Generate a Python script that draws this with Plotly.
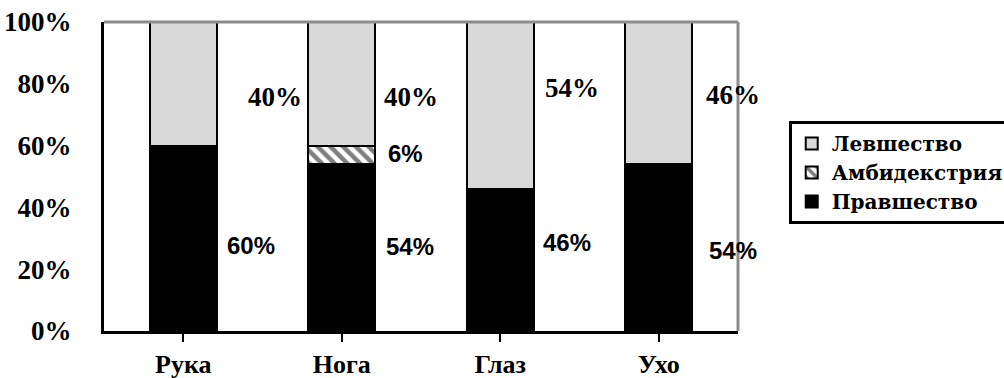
import plotly.graph_objects as go

categories = ["Рука", "Нога", "Глаз", "Ухо"]
right_handed = [60, 54, 46, 54]
ambidextrous = [0, 6, 0, 0]
left_handed = [40, 40, 54, 46]
y_ticks = [0, 20, 40, 60, 80, 100]
y_tick_labels = ["0%", "20%", "40%", "60%", "80%", "100%"]

x_idx = list(range(len(categories)))

fig = go.Figure()
line = dict(color="black", width=2)
fig.add_bar(x=x_idx, y=right_handed, name="<b>Правшество</b>", width=0.42,
            marker=dict(color="black", line=line))
fig.add_bar(x=x_idx, y=ambidextrous, name="<b>Амбидекстрия</b>", width=0.42,
            marker=dict(color="white", line=line,
                        pattern=dict(shape="\\", fgcolor="black", bgcolor="white",
                                     size=9, solidity=0.5)))
fig.add_bar(x=x_idx, y=left_handed, name="<b>Левшество</b>", width=0.42,
            marker=dict(color="#d9d9d9", line=line))

serif = "Liberation Serif"
sans = "Liberation Sans"

# label placement (offset from category, y position)
upper_pos = [(0.58, 75.7), (0.44, 75.7), (0.45, 78.6), (0.47, 76.4)]
lower_pos = [(0.43, 27.8), (0.43, 27.5), (0.42, 28.5), (0.47, 26.2)]
amb_pos = (0.40, 57.6)

anns = []
for i in x_idx:
    dx, yy = upper_pos[i]
    anns.append(dict(x=i + dx, y=yy, xref="x", yref="y", showarrow=False,
                     text=f"<b>{left_handed[i]}%</b>",
                     font=dict(family=serif, size=27, color="black")))
    dx, yy = lower_pos[i]
    anns.append(dict(x=i + dx, y=yy, xref="x", yref="y", showarrow=False,
                     text=f"<b>{right_handed[i]}%</b>",
                     font=dict(family=sans, size=24, color="black")))
    if ambidextrous[i] > 0:
        dx, yy = amb_pos
        anns.append(dict(x=i + dx, y=yy, xref="x", yref="y", showarrow=False,
                         text=f"<b>{ambidextrous[i]}%</b>",
                         font=dict(family=sans, size=24, color="black")))

fig.update_layout(
    width=1004, height=378,
    margin=dict(l=104, r=266, t=22, b=47, autoexpand=False),
    barmode="stack",
    plot_bgcolor="white", paper_bgcolor="white",
    annotations=anns,
    showlegend=True,
    legend=dict(x=1.08, y=0.68, xanchor="left", yanchor="top",
                traceorder="reversed", bordercolor="black", borderwidth=3,
                font=dict(family="DejaVu Serif", size=20, color="black"),
                bgcolor="white", itemwidth=30, tracegroupgap=0),
    xaxis=dict(range=[-0.5, 3.5], tickmode="array", tickvals=x_idx,
               ticktext=[f"<b>{c}</b>" for c in categories],
               showline=True, linecolor="black", linewidth=3, automargin=False,
               ticks="outside", ticklen=8, tickwidth=2, tickcolor="black",
               tickson="boundaries", showgrid=False, zeroline=False,
               ticklabelstandoff=0,
               tickfont=dict(family=serif, size=26, color="black")),
    yaxis=dict(range=[0, 100], tickmode="array", tickvals=y_ticks,
               ticktext=[f"<b>{t}</b>" for t in y_tick_labels],
               showline=True, linecolor="black", linewidth=3, ticks="", automargin=False,
               showgrid=False, zeroline=False, ticklabelstandoff=24,
               tickfont=dict(family=serif, size=27, color="black")),
    shapes=[
        dict(type="line", xref="paper", yref="paper", x0=0, x1=1, y0=1, y1=1,
             line=dict(color="#8c8c8c", width=3)),
        dict(type="line", xref="paper", yref="paper", x0=1, x1=1, y0=0, y1=1,
             line=dict(color="#8c8c8c", width=3)),
    ],
)

fig.write_html("out.html")
